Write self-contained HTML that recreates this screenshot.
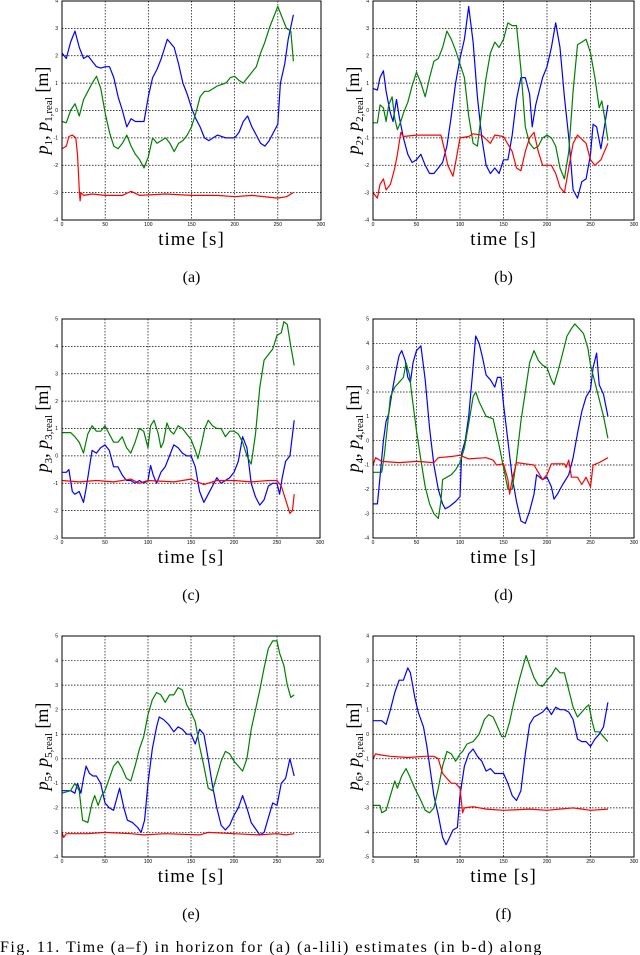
<!DOCTYPE html>
<html><head><meta charset="utf-8">
<style>
html,body{margin:0;padding:0;background:#fff;}
svg{display:block;}
</style></head>
<body>
<svg id="fig" width="640" height="955" viewBox="0 0 640 955" xmlns="http://www.w3.org/2000/svg"></svg>
<script>
const xTicks = [0,50,100,150,200,250,300];
const panelLetters = ['a','b','c','d','e','f'];
const yRanges = [[-4,4],[-4,4],[-3,5],[-4,5],[-4,5],[-5,4]];

const aBlue=[[0,2.1],[5,1.9],[10,2.5],[15,2.9],[20,2.3],[25,1.9],[30,2.0],[35,1.8],[40,1.6],[45,1.55],[50,1.6],[55,1.6],[60,1.2],[65,0.5],[70,0],[75,-0.6],[80,-0.3],[85,-0.4],[90,-0.4],[95,-0.4],[100,0.5],[105,1.2],[110,1.5],[115,1.9],[122,2.6],[130,2.3],[135,1.7],[140,1.0],[145,0.6],[150,0.1],[155,-0.3],[160,-0.6],[165,-1.0],[170,-1.1],[175,-1.0],[180,-0.9],[190,-1.0],[200,-1.0],[205,-0.8],[210,-0.4],[215,-0.2],[220,-0.6],[225,-0.9],[230,-1.2],[235,-1.3],[240,-1.1],[245,-0.8],[250,-0.5],[253,1.0],[258,1.7],[262,2.6],[268,3.5]];
const aGreen=[[0,-0.4],[5,-0.45],[10,0],[15,0.25],[20,-0.2],[25,0.4],[30,0.7],[35,1.0],[40,1.25],[45,0.8],[50,-0.1],[55,-0.8],[60,-1.3],[65,-1.4],[70,-1.2],[75,-0.9],[80,-1.3],[85,-1.6],[90,-1.8],[95,-2.1],[100,-1.7],[105,-1.0],[110,-1.2],[115,-1.1],[120,-1.0],[125,-1.2],[130,-1.5],[135,-1.2],[140,-1.1],[145,-0.9],[150,-0.6],[155,-0.1],[160,0.5],[165,0.7],[170,0.7],[175,0.8],[180,0.9],[190,1.0],[195,1.2],[200,1.25],[205,1.1],[210,1.0],[215,1.2],[220,1.4],[225,1.6],[230,2.1],[235,2.5],[240,3.0],[245,3.4],[250,3.8],[255,3.4],[260,3.0],[265,2.9],[268,1.8]];
const aRed=[[0,-1.4],[5,-1.3],[8,-0.95],[12,-0.9],[16,-1.0],[18,-1.6],[20,-2.9],[21,-3.3],[22,-3.0],[25,-3.1],[35,-3.05],[50,-3.1],[70,-3.1],[80,-2.95],[90,-3.1],[120,-3.05],[150,-3.1],[180,-3.1],[200,-3.15],[220,-3.1],[250,-3.2],[260,-3.15],[268,-3.0]];

const bBlue=[[0,0.8],[5,0.75],[8,1.2],[12,1.45],[15,0.7],[20,-0.1],[23,-0.4],[27,0.4],[30,-0.2],[35,-1.0],[40,-1.6],[45,-1.9],[50,-1.8],[55,-1.6],[60,-2.0],[65,-2.3],[70,-2.3],[75,-2.1],[80,-1.9],[85,-1.3],[90,-0.2],[95,1.0],[100,1.9],[105,2.6],[110,3.8],[115,2.5],[120,0.5],[125,-1.0],[130,-2.0],[135,-2.3],[140,-2.1],[145,-2.3],[150,-1.8],[155,-1.8],[160,-0.9],[165,0.4],[170,1.2],[175,1.2],[180,0.6],[183,-0.6],[187,0.2],[195,1.2],[200,1.6],[205,2.3],[210,3.2],[215,2.3],[220,0.5],[225,-1.0],[230,-2.9],[235,-3.2],[240,-2.6],[245,-2.5],[250,-1.6],[253,-0.5],[257,-0.6],[262,-1.4],[266,-0.6],[270,0.2]];
const bGreen=[[0,-0.45],[5,-0.45],[8,0.2],[12,0.1],[15,-0.4],[18,0.2],[22,0.5],[25,-0.3],[28,-0.7],[32,-0.4],[35,-0.1],[40,0.3],[45,0.9],[50,1.4],[55,1.0],[60,0.5],[65,1.2],[70,1.8],[75,1.9],[80,2.3],[85,2.9],[90,2.6],[95,2.2],[100,1.7],[105,1.2],[110,-0.2],[115,-1.2],[120,-1.3],[125,0],[130,1.2],[135,2.1],[140,2.5],[145,2.3],[150,2.6],[155,3.2],[160,3.1],[165,3.1],[170,1.5],[175,-0.6],[180,-1.2],[185,-1.4],[190,-1.3],[195,-1.0],[200,-0.9],[205,-1.0],[210,-1.3],[215,-2.1],[220,-2.5],[225,-1.5],[230,0.7],[235,2.4],[240,2.5],[245,2.6],[250,2.1],[255,1.2],[260,0.1],[263,0.35],[267,-0.4],[270,-1.1]];
const bRed=[[0,-3.0],[5,-3.2],[8,-2.7],[12,-2.5],[15,-2.9],[20,-2.7],[25,-2.1],[28,-1.6],[32,-0.8],[35,-0.95],[50,-0.9],[78,-0.9],[82,-1.4],[86,-2.0],[92,-2.4],[95,-1.9],[100,-1.0],[110,-0.95],[115,-0.85],[125,-0.9],[135,-1.2],[140,-0.9],[150,-0.95],[160,-1.5],[165,-2.1],[170,-2.2],[175,-1.5],[180,-1.0],[185,-0.8],[190,-1.5],[195,-2.0],[205,-2.0],[210,-2.3],[215,-2.8],[220,-3.0],[225,-2.1],[230,-1.2],[235,-0.9],[245,-1.2],[250,-1.8],[255,-2.0],[262,-1.8],[270,-1.2]];

const cBlue=[[0,-0.6],[5,-0.6],[8,-0.5],[12,-1.3],[15,-1.4],[20,-1.3],[25,-1.7],[28,-1.2],[32,-0.4],[35,0.2],[40,0.1],[45,0.3],[50,0.4],[55,0.2],[60,-0.4],[65,-0.4],[70,-0.7],[75,-0.9],[80,-0.9],[85,-1.0],[90,-0.9],[95,-1.0],[100,-0.9],[103,-0.35],[106,-0.7],[110,-1.0],[115,-0.6],[120,-0.4],[125,0],[130,0.4],[135,0.3],[140,0.1],[145,0],[150,0],[155,-0.4],[160,-1.3],[165,-1.7],[170,-1.4],[175,-1.1],[180,-0.8],[185,-1.0],[190,-0.9],[195,-0.8],[200,-0.6],[205,-0.2],[210,0.7],[215,0.3],[220,-1.0],[225,-1.5],[230,-1.8],[235,-1.6],[240,-1.1],[245,-1.0],[250,-1.0],[253,-1.4],[256,-0.8],[260,-0.2],[265,0],[270,1.3]];
const cGreen=[[0,0.85],[10,0.85],[15,0.7],[20,0.5],[25,0.1],[30,0.8],[35,1.1],[40,0.9],[45,0.9],[50,1.1],[55,0.8],[60,0.5],[65,0.5],[70,0.7],[75,0.3],[80,0.1],[85,0.5],[90,1.0],[95,0.9],[100,0.3],[103,1.1],[107,1.3],[112,0.8],[115,0.3],[118,0.5],[122,1.2],[126,0.9],[130,0.8],[135,1.1],[140,1.0],[145,0.8],[150,0.6],[155,0.2],[158,-0.1],[162,0.4],[166,1.0],[170,1.3],[175,1.1],[180,1.0],[185,1.0],[190,0.7],[195,0.9],[200,0.9],[205,0.8],[210,0.5],[215,0],[220,-0.3],[225,0.8],[230,2.5],[235,3.5],[240,3.7],[245,3.9],[250,4.4],[255,4.5],[258,4.9],[262,4.8],[266,4.0],[270,3.3]];
const cRed=[[0,-0.9],[20,-0.95],[40,-0.9],[60,-0.95],[80,-0.85],[90,-1.0],[100,-0.9],[130,-0.95],[150,-0.85],[165,-1.05],[180,-0.9],[200,-0.9],[220,-0.95],[240,-0.9],[250,-0.9],[255,-1.1],[260,-1.6],[265,-2.1],[268,-2.0],[270,-1.4]];

const dBlue=[[0,-2.6],[5,-2.6],[8,-1.5],[12,0],[15,0.8],[18,1.1],[22,2.0],[26,2.8],[30,3.5],[33,3.7],[37,3.3],[40,2.6],[43,2.4],[46,3.2],[50,3.7],[55,3.9],[60,2.5],[65,0.5],[70,-1.0],[75,-2.0],[80,-2.6],[83,-2.8],[88,-2.7],[95,-2.5],[100,-2.3],[102,-0.5],[106,0],[110,1.0],[114,2.6],[118,4.3],[122,4.0],[126,3.4],[130,2.7],[135,2.5],[140,2.2],[143,2.6],[147,2.6],[150,1.5],[155,0],[160,-1.5],[165,-2.5],[170,-3.3],[175,-3.4],[180,-2.9],[185,-2.2],[188,-1.4],[195,-1.6],[200,-1.5],[205,-1.9],[208,-2.4],[212,-2.2],[218,-1.8],[225,-1.4],[230,-0.7],[235,0.3],[240,1.2],[245,1.8],[250,2.1],[253,3.0],[257,3.6],[260,2.3],[265,1.9],[270,1.0]];
const dGreen=[[0,-1.3],[10,-1.3],[13,-0.6],[16,0.4],[20,1.8],[25,2.2],[30,2.4],[35,2.6],[38,3.2],[42,2.7],[45,1.8],[50,0.4],[55,-0.8],[60,-1.9],[65,-2.6],[70,-3.0],[75,-3.2],[78,-2.5],[80,-1.6],[85,-1.5],[90,-1.4],[95,-1.2],[100,-0.9],[105,-0.3],[110,0.7],[115,1.8],[118,2.0],[122,1.6],[126,1.3],[130,1.0],[138,0.9],[145,-0.2],[150,-1.1],[155,-2.0],[160,-2.0],[165,-0.8],[170,0.8],[175,2.0],[180,3.2],[185,3.7],[190,3.3],[195,3.1],[200,3.0],[205,2.5],[208,2.3],[213,2.9],[218,3.6],[223,4.3],[228,4.6],[232,4.8],[237,4.6],[242,4.4],[247,3.8],[250,3.1],[255,2.4],[260,1.7],[265,1.0],[270,0.1]];
const dRed=[[0,-1.0],[3,-0.7],[10,-0.85],[30,-0.9],[50,-0.85],[70,-0.9],[75,-0.7],[90,-0.65],[100,-0.6],[110,-0.75],[130,-0.7],[138,-0.8],[142,-1.0],[150,-0.95],[155,-1.6],[157,-2.2],[160,-1.6],[165,-0.9],[175,-0.95],[185,-1.0],[190,-1.3],[195,-1.6],[200,-1.4],[205,-0.95],[220,-0.95],[222,-1.1],[225,-0.8],[228,-1.5],[235,-1.5],[240,-1.8],[245,-1.5],[250,-1.9],[253,-1.0],[260,-0.9],[270,-0.7]];

const eBlue=[[0,-1.3],[5,-1.3],[10,-1.3],[15,-1.4],[18,-1.0],[22,-1.4],[25,-0.8],[28,-0.3],[32,-0.6],[36,-0.7],[40,-0.7],[45,-1.0],[50,-1.8],[55,-2.0],[60,-2.1],[63,-1.7],[67,-1.2],[72,-2.0],[76,-2.5],[82,-2.6],[88,-2.8],[92,-3.0],[96,-2.5],[100,-1.0],[105,0.4],[110,1.3],[113,1.7],[118,1.6],[124,1.4],[130,1.1],[135,1.3],[140,1.2],[145,1.0],[150,1.0],[155,0.6],[160,1.2],[165,1.0],[170,0],[175,-1.1],[180,-2.0],[185,-2.7],[190,-2.9],[195,-2.7],[200,-2.3],[205,-2.0],[210,-1.5],[215,-2.0],[220,-2.6],[230,-3.1],[235,-3.0],[240,-2.4],[245,-1.8],[250,-1.9],[255,-1.0],[260,-0.8],[265,0],[270,-0.7]];
const eGreen=[[0,-1.4],[10,-1.3],[15,-1.0],[20,-1.3],[24,-2.5],[30,-2.6],[35,-1.8],[38,-1.5],[42,-1.9],[46,-1.5],[50,-1.3],[55,-0.8],[60,-0.3],[65,-0.1],[70,-0.4],[75,-0.8],[80,-0.9],[85,-0.3],[90,0.4],[95,0.9],[100,1.8],[105,2.4],[110,2.7],[115,2.6],[120,2.3],[125,2.6],[130,2.6],[135,2.9],[140,2.8],[145,2.2],[150,1.9],[155,1.5],[160,0.5],[165,-0.3],[170,-1.2],[175,-1.3],[180,-0.7],[185,-0.1],[190,0.3],[195,0.2],[200,-0.1],[205,-0.3],[210,-0.5],[215,0],[220,1.2],[225,2.0],[230,2.8],[235,3.7],[240,4.5],[245,4.8],[250,4.8],[253,4.3],[258,3.8],[262,3.0],[266,2.5],[270,2.6]];
const eRed=[[0,-3.0],[2,-3.2],[5,-3.05],[30,-3.05],[50,-3.0],[80,-3.05],[95,-3.1],[120,-3.05],[160,-3.1],[170,-3.0],[200,-3.05],[230,-3.1],[250,-3.05],[260,-3.1],[270,-3.05]];

const fBlue=[[0,0.55],[10,0.55],[15,0.4],[20,1.0],[25,1.7],[30,2.2],[35,2.2],[40,2.7],[43,2.5],[48,1.5],[52,0.9],[58,0.3],[62,-0.5],[66,-1.5],[70,-2.5],[75,-3.3],[80,-4.2],[84,-4.5],[88,-4.2],[92,-3.9],[97,-3.8],[100,-2.5],[105,-1.3],[110,-0.8],[115,-0.6],[120,-0.9],[125,-1.1],[130,-1.5],[135,-1.4],[140,-1.6],[150,-1.6],[155,-2.0],[160,-2.5],[165,-2.7],[170,-2.3],[175,-0.8],[180,0.4],[185,0.7],[190,0.8],[195,0.9],[200,1.1],[205,0.8],[210,1.1],[215,1.0],[220,1.0],[225,0.9],[230,0.6],[235,-0.2],[240,-0.3],[245,-0.3],[250,-0.5],[255,-0.2],[260,0],[265,0.3],[270,1.3]];
const fGreen=[[0,-2.9],[8,-2.9],[10,-3.2],[15,-3.1],[20,-2.5],[25,-1.9],[28,-2.2],[33,-1.7],[38,-1.4],[42,-1.7],[48,-2.2],[55,-2.7],[60,-3.1],[65,-3.2],[70,-3.0],[75,-2.2],[80,-1.3],[85,-0.7],[90,-0.8],[95,-1.1],[100,-0.8],[103,-0.7],[108,-0.4],[115,-0.3],[122,0],[128,0.6],[133,0.8],[138,0.7],[142,0.4],[148,-0.1],[152,-0.1],[157,0.5],[162,1.3],[168,2.2],[172,2.7],[176,3.2],[180,2.8],[185,2.3],[190,2.0],[195,1.95],[200,2.2],[205,2.4],[210,2.7],[215,2.5],[220,2.5],[225,1.8],[230,1.1],[235,0.7],[240,0.9],[245,1.1],[248,1.2],[252,0.5],[255,0.1],[260,0.1],[265,-0.1],[270,-0.3]];
const fRed=[[0,-1.0],[3,-0.8],[10,-0.85],[20,-0.9],[40,-0.95],[60,-0.9],[70,-0.9],[75,-1.0],[80,-1.6],[85,-1.8],[90,-2.0],[95,-2.0],[100,-2.2],[103,-3.2],[105,-3.0],[115,-2.95],[130,-3.05],[150,-3.1],[180,-3.05],[200,-3.1],[230,-3.0],[250,-3.1],[270,-3.05]];

const seriesByPanel=[[aBlue,aGreen,aRed],[bBlue,bGreen,bRed],[cBlue,cGreen,cRed],[dBlue,dGreen,dRed],[eBlue,eGreen,eRed],[fBlue,fGreen,fRed]];
const seriesNames=['estimate-blue','estimate-green','real-red'];
const seriesColors=['#0000ff','#008000','#ff0000'];
const boxes=[[62,1,259,219],[373,1,261,219],[62,319,258,219],[373,319,261,219],[62,636,258,221],[373,636,261,221]];

const NS='http://www.w3.org/2000/svg';
const svg=document.getElementById('fig');
function mk(tag,parent,attrs){const e=document.createElementNS(NS,tag);for(const k in attrs)e.setAttribute(k,attrs[k]);parent.appendChild(e);return e;}

boxes.forEach((b,i)=>{
  const [L,T,W,H]=b; const [ymin,ymax]=yRanges[i];
  const xs=t=>L+t/300*W;
  const ys=v=>T+(ymax-v)/(ymax-ymin)*H;
  const g=mk('g',svg,{});
  
  
  xTicks.forEach(t=>{
    if(t>0&&t<300){const l=mk('line',g,{x1:xs(t),x2:xs(t),y1:T,y2:T+H,stroke:'#000','stroke-width':0.7,'stroke-dasharray':'1.5,1.5'});
    
    }
    const tx=mk('text',g,{x:xs(t),y:T+H+6,'font-size':5,'text-anchor':'middle','font-family':'Liberation Sans, sans-serif'});
    tx.textContent=t;
    
    
  });
  for(let v=ymin;v<=ymax;v++){
    if(v>ymin&&v<ymax){const l=mk('line',g,{x1:L,x2:L+W,y1:ys(v),y2:ys(v),stroke:'#000','stroke-width':0.7,'stroke-dasharray':'1.5,1.5'});
    
    }
    const tx=mk('text',g,{x:L-4,y:ys(v)+1.7,'font-size':5,'text-anchor':'end','font-family':'Liberation Sans, sans-serif'});
    tx.textContent=v;
    
    
  }
  seriesByPanel[i].forEach((s,k)=>{
    const d=s.map((p,j)=>(j?'L':'M')+xs(p[0]).toFixed(1)+','+ys(p[1]).toFixed(1)).join('');
    const p=mk('path',g,{d:d,fill:'none',stroke:seriesColors[k],'stroke-width':1.2,'stroke-linejoin':'round'});
    
    
  });
  const r=mk('rect',g,{x:L,y:T,width:W,height:H,fill:'none',stroke:'#000','stroke-width':1});
  
  
  const xl=mk('text',g,{x:L+W/2,y:T+H+25,'font-size':19,'letter-spacing':'1','text-anchor':'middle','font-family':'Liberation Serif, serif'});
  xl.textContent='time [s]';
  
  
  const cx=L+W/2-2, cy=T+H/2;
  const yl=mk('text',g,{x:0,y:0,'font-size':18,'text-anchor':'middle','font-family':'Liberation Serif, serif',transform:'translate('+(L-14)+','+cy+') rotate(-90)'});
  const n=i+1;
  yl.innerHTML='<tspan font-style="italic">p</tspan><tspan font-size="11" dy="4">'+n+'</tspan><tspan dy="-4">, </tspan><tspan font-style="italic">p</tspan><tspan font-size="11" dy="4">'+n+',real</tspan><tspan dy="-4"> [m]</tspan>';
  
  
  const cap=mk('text',g,{x:cx+2,y:T+H+62,'font-size':16,'text-anchor':'middle','font-family':'Liberation Serif, serif'});
  cap.textContent='('+panelLetters[i]+')';
  
  
});
const fc=mk('text',svg,{x:0,y:952,'font-size':16,'letter-spacing':'1.5','font-family':'Liberation Serif, serif'});
fc.textContent='Fig. 11.   Time (a–f) in horizon for (a) (a-lili) estimates (in b-d) along';


</script>
</body></html>
